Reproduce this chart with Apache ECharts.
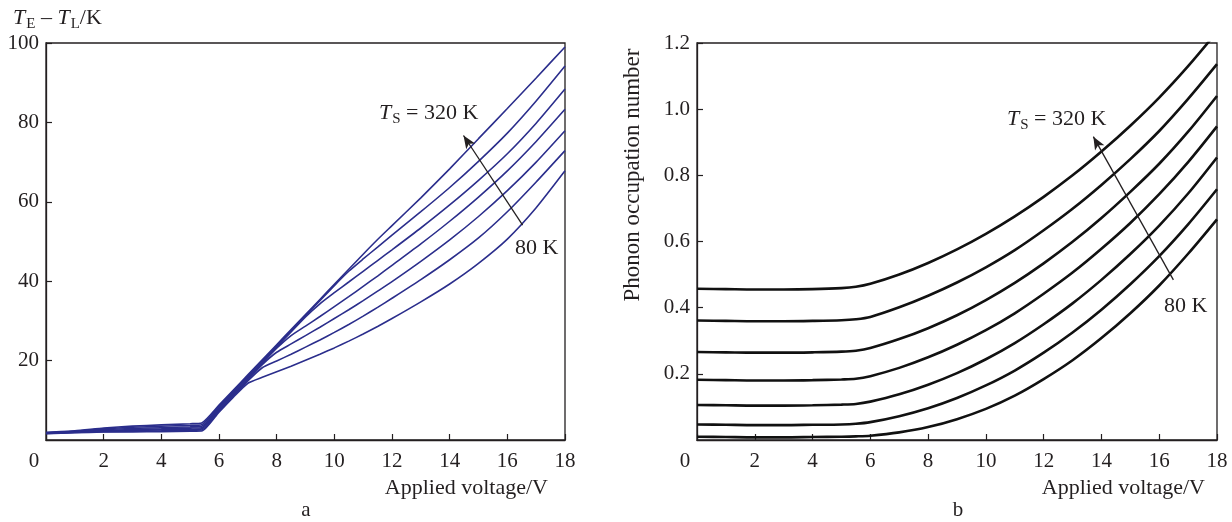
<!DOCTYPE html>
<html>
<head>
<meta charset="utf-8">
<script src="https://cdn.jsdelivr.net/npm/echarts@6/dist/echarts.min.js"></script>
<style>
html,body{margin:0;padding:0;background:#fff;}
#chart{width:1232px;height:522px;}
</style>
</head>
<body>
<div id="chart"></div>
<script>
// ---------- Panel a: T_E - T_L (K) vs applied voltage ----------
const voltsA = [0, 1, 2, 3, 4, 5, 5.4, 6, 6.5, 7, 7.5, 8, 8.5, 9, 9.5, 10, 10.5, 11, 11.5, 12, 13, 14, 15, 16, 17, 18];
const a320 = [1.9, 2.3, 3.0, 3.5, 3.8, 4.1, 4.3, 8.8, 12.6, 16.4, 20.2, 24.0, 27.8, 31.6, 35.4, 39.2, 43.0, 46.8, 50.5, 54.0, 61.0, 68.3, 75.9, 83.5, 91.2, 99.0];
const a280 = [1.85, 2.2, 2.8, 3.2, 3.45, 3.7, 3.85, 8.5, 12.3, 16.1, 19.9, 23.7, 27.5, 31.3, 35.1, 38.9, 42.5, 45.6, 48.6, 51.6, 57.5, 63.6, 70.2, 77.3, 85.4, 94.2];
const a240 = [1.8, 2.1, 2.6, 2.9, 3.1, 3.3, 3.45, 8.2, 12.0, 15.8, 19.6, 23.4, 27.2, 31.0, 34.3, 37.1, 39.8, 42.5, 45.2, 47.9, 53.4, 59.2, 65.4, 72.1, 79.8, 88.4];
const a200 = [1.75, 2.0, 2.4, 2.65, 2.8, 3.0, 3.1, 7.9, 11.7, 15.5, 19.3, 23.1, 26.3, 28.7, 31.1, 33.6, 36.1, 38.7, 41.3, 44.0, 49.4, 55.1, 61.2, 67.8, 75.2, 83.3];
const a160 = [1.7, 1.95, 2.25, 2.4, 2.55, 2.7, 2.8, 7.6, 11.4, 15.2, 19.0, 22.1, 24.2, 26.3, 28.4, 30.6, 32.8, 35.1, 37.5, 39.9, 45.0, 50.4, 56.3, 62.8, 70.0, 77.9];
const a120 = [1.65, 1.9, 2.1, 2.2, 2.3, 2.45, 2.5, 7.3, 11.1, 14.9, 18.2, 19.9, 21.6, 23.4, 25.2, 27.1, 29.1, 31.2, 33.4, 35.7, 40.4, 45.4, 50.9, 57.5, 65.0, 72.9];
const a80  = [1.6, 1.85, 2.0, 2.05, 2.1, 2.2, 2.25, 7.0, 10.8, 14.3, 15.8, 17.2, 18.6, 20.1, 21.6, 23.2, 24.9, 26.7, 28.6, 30.6, 34.8, 39.3, 44.5, 50.6, 58.5, 67.8];
const seriesA = [a320, a280, a240, a200, a160, a120, a80];
const arrowA = [[16.53, 54.1], [14.48, 76.7]];

// ---------- Panel b: phonon occupation number vs applied voltage ----------
const voltsB = [0, 1, 2, 3, 4, 5, 5.5, 6, 7, 8, 9, 10, 11, 12, 13, 14, 15, 16, 17, 18];
const b320 = [0.457, 0.456, 0.455, 0.455, 0.456, 0.459, 0.463, 0.472, 0.500, 0.535, 0.576, 0.623, 0.676, 0.735, 0.800, 0.872, 0.950, 1.035, 1.130, 1.234];
const b280 = [0.361, 0.360, 0.359, 0.359, 0.360, 0.362, 0.365, 0.372, 0.401, 0.436, 0.476, 0.522, 0.574, 0.634, 0.699, 0.771, 0.849, 0.934, 1.031, 1.136];
const b240 = [0.266, 0.265, 0.264, 0.264, 0.265, 0.267, 0.270, 0.278, 0.305, 0.338, 0.377, 0.423, 0.475, 0.534, 0.599, 0.671, 0.750, 0.835, 0.932, 1.040];
const b200 = [0.182, 0.181, 0.180, 0.180, 0.181, 0.183, 0.185, 0.193, 0.218, 0.250, 0.288, 0.332, 0.383, 0.442, 0.506, 0.578, 0.656, 0.743, 0.840, 0.948];
const b160 = [0.106, 0.105, 0.104, 0.104, 0.105, 0.107, 0.109, 0.116, 0.138, 0.167, 0.202, 0.244, 0.293, 0.350, 0.413, 0.484, 0.562, 0.648, 0.745, 0.854];
const b120 = [0.047, 0.046, 0.045, 0.045, 0.046, 0.047, 0.049, 0.054, 0.072, 0.096, 0.127, 0.165, 0.210, 0.264, 0.325, 0.394, 0.471, 0.556, 0.652, 0.758];
const b80  = [0.010, 0.009, 0.008, 0.008, 0.009, 0.010, 0.011, 0.013, 0.023, 0.039, 0.063, 0.094, 0.134, 0.184, 0.241, 0.308, 0.383, 0.467, 0.563, 0.667];
const seriesB = [b320, b280, b240, b200, b160, b120, b80];
const arrowB = [[16.49, 0.484], [13.72, 0.917]];

const tempNames = ['320 K', '280 K', '240 K', '200 K', '160 K', '120 K', '80 K'];

// ---------- styling ----------
const FONT = 'Liberation Serif';
const INK = '#231f20';
const BLUE = '#2b2e8c';

function xAxisCfg(gi) {
  return {
    type: 'value', gridIndex: gi, min: 0, max: 18, interval: 2,
    axisLine: { show: true, lineStyle: { color: INK, width: 1.3 } },
    axisTick: { show: true, inside: true, length: 6, lineStyle: { color: INK, width: 1.2 } },
    splitLine: { show: false },
    axisLabel: {
      color: INK, fontFamily: FONT, fontSize: 21, margin: 11,
      formatter: v => (v === 0 ? '{z|0}' : String(v)),
      rich: { z: { padding: [0, 24, 0, 0], fontFamily: FONT, fontSize: 21, color: INK } }
    }
  };
}
function yAxisCfg(gi, max, interval, fmt) {
  return {
    type: 'value', gridIndex: gi, min: 0, max: max, interval: interval,
    axisLine: { show: true, lineStyle: { color: INK, width: 1.3 } },
    axisTick: { show: true, inside: true, length: 6, lineStyle: { color: INK, width: 1.2 } },
    splitLine: { show: false },
    axisLabel: {
      color: INK, fontFamily: FONT, fontSize: 21, margin: 7,
      showMinLabel: false,
      formatter: v => (v === 0 ? '' : fmt(v))
    }
  };
}

const series = [];
seriesA.forEach((arr, k) => {
  const s = {
    name: 'a ' + tempNames[k], type: 'line', xAxisIndex: 0, yAxisIndex: 0,
    data: voltsA.map((v, i) => [v, arr[i]]),
    showSymbol: false, smooth: 0.2,
    lineStyle: { color: BLUE, width: 1.6 }, silent: true
  };
  if (k === 0) {
    s.markLine = {
      silent: true, symbol: ['none', 'arrow'], symbolSize: [8, 13],
      lineStyle: { color: INK, width: 1.3, type: 'solid' },
      label: { show: false },
      data: [[{ coord: arrowA[0] }, { coord: arrowA[1] }]]
    };
  }
  series.push(s);
});
seriesB.forEach((arr, k) => {
  const s = {
    name: 'b ' + tempNames[k], type: 'line', xAxisIndex: 1, yAxisIndex: 1,
    data: voltsB.map((v, i) => [v, arr[i]]),
    showSymbol: false, smooth: 0.3,
    lineStyle: { color: '#111', width: 2.6 }, silent: true
  };
  if (k === 0) {
    s.markLine = {
      silent: true, symbol: ['none', 'arrow'], symbolSize: [8, 13],
      lineStyle: { color: INK, width: 1.3, type: 'solid' },
      label: { show: false },
      data: [[{ coord: arrowB[0] }, { coord: arrowB[1] }]]
    };
  }
  series.push(s);
});

// ----- text with real subscripts, composed from measured pieces -----
const measureCtx = document.createElement('canvas').getContext('2d');
function pieceWidth(text, size, italic) {
  measureCtx.font = (italic ? 'italic ' : '') + size + 'px "' + FONT + '"';
  return measureCtx.measureText(text).width;
}
// parts: [text, kind] where kind is 'i' (italic), 'n' (normal), 's' (subscript)
function subscriptGroup(x, bottom, parts, size) {
  const children = [];
  let cx = 0;
  const subSize = Math.round(size * 0.68);
  parts.forEach(([t, kind]) => {
    const isSub = kind === 's';
    const fs = isSub ? subSize : size;
    const it = kind === 'i';
    children.push({
      type: 'text', x: cx, y: isSub ? 2.5 : 0, silent: true,
      style: {
        text: t, fill: INK, align: 'left', verticalAlign: 'bottom',
        fontFamily: FONT, fontSize: fs, fontStyle: it ? 'italic' : 'normal'
      }
    });
    cx += pieceWidth(t, fs, it) + (it ? 1 : 0);
  });
  return { type: 'group', x: x, y: bottom, silent: true, children: children };
}

function txt(x, y, text, opts) {
  return {
    type: 'text', x: x, y: y, silent: true,
    style: Object.assign({ text: text, fontFamily: FONT, fontSize: 21, fill: INK, align: 'left', verticalAlign: 'middle' }, opts || {})
  };
}

const option = {
  animation: false,
  backgroundColor: '#fff',
  grid: [
    { left: 46, right: 667, top: 43, bottom: 82, show: true, borderColor: INK, borderWidth: 1.3, backgroundColor: 'transparent' },
    { left: 697, right: 15, top: 43, bottom: 82, show: true, borderColor: INK, borderWidth: 1.3, backgroundColor: 'transparent' }
  ],
  xAxis: [xAxisCfg(0), xAxisCfg(1)],
  yAxis: [
    yAxisCfg(0, 100, 20, v => String(v)),
    yAxisCfg(1, 1.2, 0.2, v => v.toFixed(1))
  ],
  series: series,
  graphic: [
    subscriptGroup(13, 29.5, [['T', 'i'], ['E', 's'], [' – ', 'n'], ['T', 'i'], ['L', 's'], ['/K', 'n']], 22),
    subscriptGroup(379, 124, [['T', 'i'], ['S', 's'], [' = 320 K', 'n']], 22),
    txt(515, 248, '80 K', { fontSize: 22 }),
    txt(548, 488, 'Applied voltage/V', { fontSize: 22, align: 'right' }),
    txt(306, 510, 'a', { fontSize: 21, align: 'center' }),
    subscriptGroup(1007, 130.5, [['T', 'i'], ['S', 's'], [' = 320 K', 'n']], 22),
    txt(1164, 306, '80 K', { fontSize: 22 }),
    txt(1205, 488, 'Applied voltage/V', { fontSize: 22, align: 'right' }),
    txt(958, 510, 'b', { fontSize: 21, align: 'center' }),
    { type: 'text', x: 633, y: 175, rotation: Math.PI / 2, silent: true,
      style: { text: 'Phonon occupation number', fontFamily: FONT, fontSize: 23, fill: INK, align: 'center', verticalAlign: 'middle' } }
  ]
};

const chart = echarts.init(document.getElementById('chart'), null, { renderer: 'canvas' });
chart.setOption(option);
</script>
</body>
</html>
